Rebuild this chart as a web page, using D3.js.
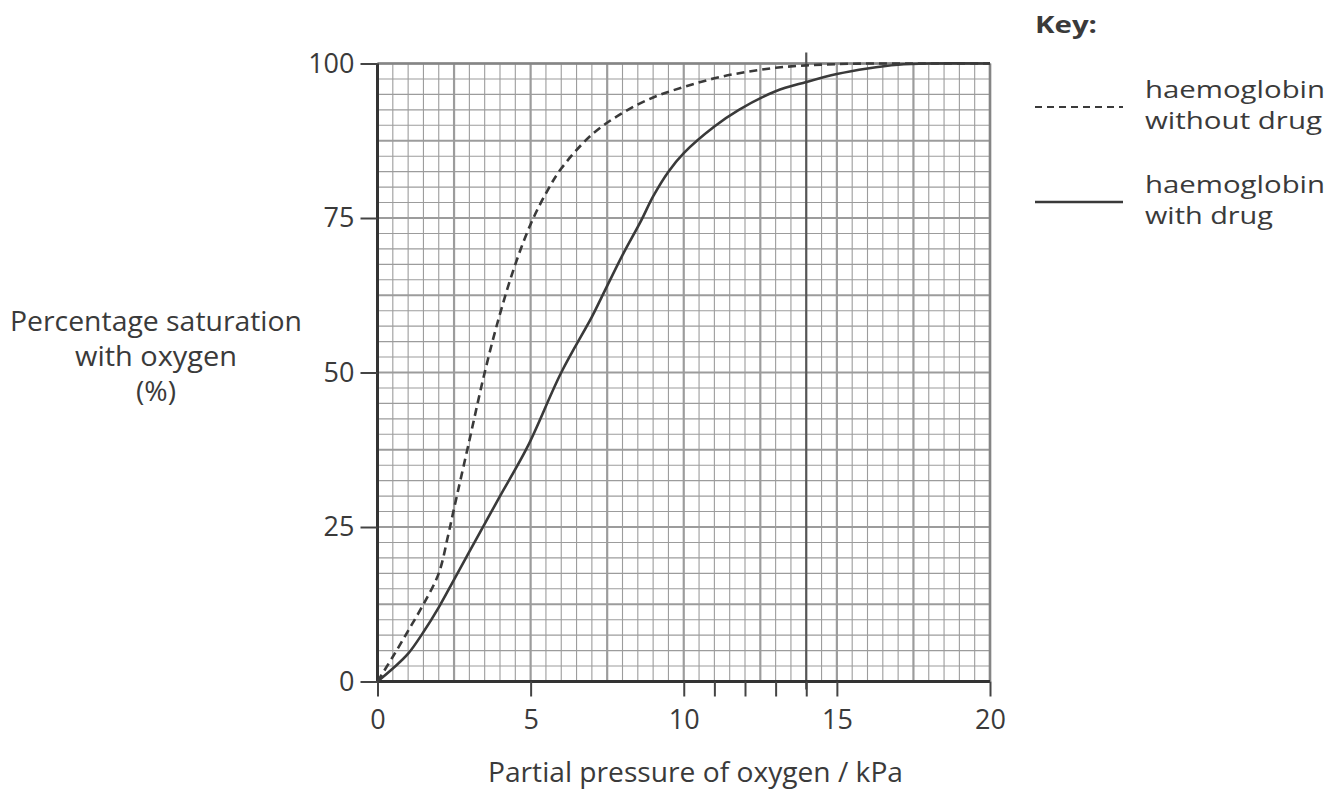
<!DOCTYPE html>
<html>
<head>
<meta charset="utf-8">
<title>Oxygen dissociation curves</title>
<script src="https://d3js.org/d3.v7.min.js"></script>
<style>
    body {
        margin: 0;
        background: #fff;
    }
    text {
        font-family: "Open Sans", sans-serif;
        fill: #3a3a3a;
    }
</style>
</head>
<body>

<div id="chart"></div>

<script>
    // Data (kPa, % saturation)
    const withoutDrugP = [0, 0.5, 1, 1.5, 2, 2.3, 2.5, 3, 3.5, 4, 4.5, 5, 5.5, 6, 7, 8, 9, 10, 11, 12, 13, 14, 15, 16, 17, 18, 20];
    const withoutDrugS = [0, 4, 8.2, 12.5, 17.5, 23.5, 28, 39, 50, 59.5, 67.5, 74, 79, 83, 88.5, 92, 94.5, 96.2, 97.6, 98.6, 99.3, 99.7, 99.9, 100, 100, 100, 100];

    const withDrugP = [0, 0.5, 1, 1.5, 2, 2.5, 3, 3.5, 4, 4.9, 6, 7, 7.3, 8, 8.6, 9, 9.5, 10, 11, 11.8, 13, 14, 15, 16, 17, 18, 20];
    const withDrugS = [0, 2.1, 4.5, 8, 12, 16.5, 21, 25.5, 30, 38, 50, 59, 62, 69, 74.5, 78.5, 82.5, 85.5, 89.8, 92.5, 95.5, 97, 98.3, 99.2, 99.8, 100, 100];

    const xTicks = [0, 5, 10, 11, 12, 13, 14, 15, 20];
    const xTickLabels = [0, 5, 10, 15, 20];
    const yTicks = [0, 25, 50, 75, 100];
    const markerP = 14; // the vertical line drawn at 14 kPa

    const seriesNames = ["haemoglobin without drug", "haemoglobin with drug"];

    const width = 1343;
    const height = 793;

    const svg = d3.select("#chart")
        .append("svg")
        .attr("width", width)
        .attr("height", height);

    // squeeze or stretch a text to the width it has in the figure
    function fitWidth(sel, w) {
        sel.attr("textLength", w).attr("lengthAdjust", "spacingAndGlyphs");
    }

    // Scales
    const x = d3.scaleLinear().domain([0, 20]).range([377.5, 990]);
    const y = d3.scaleLinear().domain([0, 100]).range([681.5, 63.5]);

    // Graph paper grid
    const grid = svg.append("g");
    const minorX = d3.range(0, 20.01, 0.5);
    const minorY = d3.range(0, 100.01, 2.5);

    grid.selectAll(".vx")
        .data(minorX)
        .enter().append("line")
        .attr("x1", d => x(d)).attr("x2", d => x(d))
        .attr("y1", y(100)).attr("y2", y(0))
        .attr("stroke", "#9c9c9c")
        .attr("stroke-width", d => (d % 2.5 === 0) ? 2.2 : 1.1);

    grid.selectAll(".hy")
        .data(minorY)
        .enter().append("line")
        .attr("y1", d => y(d)).attr("y2", d => y(d))
        .attr("x1", x(0)).attr("x2", x(20))
        .attr("stroke", "#9c9c9c")
        .attr("stroke-width", d => (d % 12.5 === 0) ? 2.2 : 1.1);

    // top and right border of the paper
    grid.append("line")
        .attr("x1", x(0)).attr("x2", x(20))
        .attr("y1", y(100)).attr("y2", y(100))
        .attr("stroke", "#858585").attr("stroke-width", 2.5);
    grid.append("line")
        .attr("x1", x(20)).attr("x2", x(20))
        .attr("y1", y(100)).attr("y2", y(0))
        .attr("stroke", "#858585").attr("stroke-width", 2.5);

    // vertical line at 14 kPa
    svg.append("line")
        .attr("x1", x(markerP)).attr("x2", x(markerP))
        .attr("y1", y(100) - 11).attr("y2", y(0) + 8)
        .attr("stroke", "#555")
        .attr("stroke-width", 2.2);

    // Axes
    const xAxis = d3.axisBottom(x)
        .tickValues(xTicks)
        .tickSize(15)
        .tickPadding(13)
        .tickFormat(d => xTickLabels.includes(d) ? d : "");

    const yAxis = d3.axisLeft(y)
        .tickValues(yTicks)
        .tickSize(17)
        .tickPadding(6);

    const gx = svg.append("g")
        .attr("transform", "translate(0," + y(0) + ")")
        .call(xAxis);
    const gy = svg.append("g")
        .attr("transform", "translate(" + x(0) + ",0)")
        .call(yAxis);

    [gx, gy].forEach(g => {
        g.select(".domain").attr("stroke", "#333").attr("stroke-width", 3);
        g.selectAll(".tick line").attr("stroke", "#444").attr("stroke-width", 2);
        g.selectAll(".tick text")
            .attr("font-size", 27)
            .attr("font-family", "Open Sans, sans-serif")
            .attr("fill", "#3a3a3a");
    });
    gx.select(".domain").attr("d", "M" + x(0) + ",0H" + x(20));
    gy.select(".domain").attr("d", "M0," + y(0) + "V" + y(100));

    // Curves
    const line = d3.line()
        .x(d => x(d[0]))
        .y(d => y(d[1]))
        .curve(d3.curveCatmullRom.alpha(0.5));

    const withoutDrug = withoutDrugP.map((p, i) => [p, withoutDrugS[i]]);
    const withDrug = withDrugP.map((p, i) => [p, withDrugS[i]]);

    svg.append("path")
        .datum(withoutDrug)
        .attr("d", line)
        .attr("fill", "none")
        .attr("stroke", "#3a3a3a")
        .attr("stroke-width", 2.6)
        .attr("stroke-dasharray", "8,5");

    svg.append("path")
        .datum(withDrug)
        .attr("d", line)
        .attr("fill", "none")
        .attr("stroke", "#3a3a3a")
        .attr("stroke-width", 2.6);

    // Axis titles
    svg.append("text")
        .attr("x", 488)
        .attr("y", 782)
        .attr("font-size", 27)
        .text("Partial pressure of oxygen / kPa")
        .call(fitWidth, 415);

    const yTitleLines = ["Percentage saturation", "with oxygen", "(%)"];
    const yTitleWidths = [292, 162, 40];
    yTitleLines.forEach((t, i) => {
        svg.append("text")
            .attr("x", 156)
            .attr("y", 331 + i * 35)
            .attr("text-anchor", "middle")
            .attr("font-size", 27)
            .text(t)
            .call(fitWidth, yTitleWidths[i]);
    });

    // Key
    svg.append("text")
        .attr("x", 1035)
        .attr("y", 33)
        .attr("font-size", 24)
        .attr("font-weight", "bold")
        .text("Key:")
        .call(fitWidth, 62);

    const keyY = [107, 202];
    const keyWidths = [[180, 177], [180, 128]];
    seriesNames.forEach((name, i) => {
        svg.append("line")
            .attr("x1", 1035).attr("x2", 1123)
            .attr("y1", keyY[i]).attr("y2", keyY[i])
            .attr("stroke", "#3a3a3a")
            .attr("stroke-width", i === 0 ? 2 : 2.6)
            .attr("stroke-dasharray", i === 0 ? "7,5" : null);

        const words = name.split(" ");
        const rows = [words[0], words.slice(1).join(" ")];
        rows.forEach((r, j) => {
            svg.append("text")
                .attr("x", 1145)
                .attr("y", keyY[i] - 9 + j * 31)
                .attr("font-size", 23)
                .text(r)
                .call(fitWidth, keyWidths[i][j]);
        });
    });
</script>
</body>
</html>
